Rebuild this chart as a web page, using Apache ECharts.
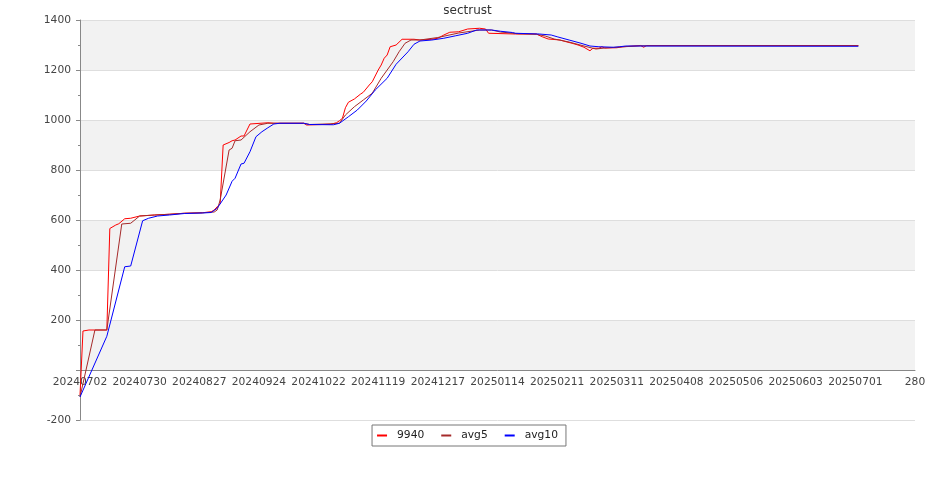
<!DOCTYPE html>
<html>
<head>
<meta charset="utf-8">
<script src="https://cdn.jsdelivr.net/npm/echarts@6/dist/echarts.min.js"></script>
<style>html,body{margin:0;padding:0;background:#fff}#c{width:935px;height:500px}</style>
</head>
<body>
<div id="c"></div>
<script>
var titleText = 'sectrust';
var seriesNames = ['9940', 'avg5', 'avg10'];
var xTickLabels = ['20240702','20240730','20240827','20240924','20241022','20241119','20241217',
  '20250114','20250211','20250311','20250408','20250506','20250603','20250701','280'];

// [trading-day index, value]
var s9940 = [[0,-100],[1,156],[3,160],[9,160],[10,566],[12,580],[13,585],[15,605],[17,607],[20,616],
  [25,620],[30,623],[35,627],[41,629],[44,633],[45,640],[46,653],[47,665],[48,900],[50,910],[51,917],
  [52,920],[54,936],[55,936],[57,984],[63,989],[65,987],[75,987],[76,980],[84,983],[86,989],[87,997],
  [88,1007],[89,1049],[90,1071],[92,1084],[94,1103],[95,1111],[97,1140],[98,1153],[100,1200],[101,1220],
  [102,1247],[103,1260],[104,1293],[106,1300],[108,1323],[112,1323],[114,1320],[118,1323],[120,1327],
  [122,1340],[124,1351],[127,1353],[130,1364],[134,1367],[136,1364],[137,1347],[146,1344],[153,1344],
  [155,1333],[157,1324],[161,1320],[163,1313],[165,1307],[167,1300],[169,1291],[171,1277],[172,1287],
  [174,1287],[175,1293],[176,1288],[180,1289],[182,1293],[188,1298],[189,1291],[190,1298],[261,1298]];
var sAvg5 = [[0,-108],[5,160],[9,160],[14,584],[17,587],[20,616],[25,620],[30,623],[35,627],[41,629],
  [45,632],[46,640],[47,680],[50,880],[51,887],[52,917],[54,920],[57,953],[60,980],[63,987],[75,987],
  [77,982],[85,985],[87,987],[89,1020],[92,1053],[95,1080],[98,1107],[101,1167],[105,1233],[107,1273],
  [109,1307],[111,1320],[114,1320],[120,1330],[127,1348],[134,1360],[138,1360],[141,1352],[147,1345],
  [153,1343],[156,1336],[159,1324],[164,1312],[169,1296],[173,1284],[176,1288],[181,1292],[188,1297],[261,1297]];
var sAvg10 = [[0,-108],[9,135],[15,413],[17,416],[21,597],[23,607],[26,616],[30,620],[35,626],[41,628],
  [44,630],[46,647],[49,700],[51,755],[52,767],[54,824],[55,827],[57,873],[59,933],[61,953],[63,969],
  [65,984],[67,987],[75,987],[77,982],[85,981],[87,987],[90,1013],[93,1040],[96,1076],[99,1120],[103,1167],
  [106,1223],[110,1273],[112,1303],[114,1316],[118,1320],[122,1327],[126,1337],[130,1347],[133,1360],
  [138,1360],[141,1355],[145,1350],[146,1347],[154,1344],[158,1340],[160,1333],[164,1320],[168,1307],
  [171,1296],[174,1293],[179,1291],[181,1293],[183,1296],[261,1295]];
var seriesColors = ['#ff0000', '#a52a2a', '#0000ff'];

var font = 'DejaVu Sans';
var chart = echarts.init(document.getElementById('c'), null, {renderer: 'canvas'});
function mk(name, data, color) {
  return {name: name, type: 'line', data: data, showSymbol: false, symbol: 'none',
    lineStyle: {width: 1, color: color}, itemStyle: {color: color}, z: 3};
}
chart.setOption({
  animation: false,
  backgroundColor: '#ffffff',
  title: {text: titleText, left: 'center', top: 0,
    textStyle: {fontFamily: font, fontSize: 12, fontWeight: 'normal', color: '#333'}},
  legend: {bottom: 54, left: 'center', icon: 'rect', itemWidth: 10, itemHeight: 2, itemGap: 17,
    borderColor: '#777', borderWidth: 1, borderRadius: 0, padding: [5, 8, 5, 5],
    textStyle: {fontFamily: font, fontSize: 10.7, color: '#222', padding: [0, 0, 0, 5]},
    data: seriesNames},
  grid: {left: 80, right: 20, top: 20, bottom: 80, containLabel: false},
  xAxis: {type: 'value', min: 0, max: 280, interval: 20, offset: -50,
    axisLine: {onZero: false, lineStyle: {color: '#888'}},
    axisTick: {show: false},
    splitLine: {show: false},
    axisLabel: {fontFamily: font, fontSize: 10.7, color: '#444', margin: 7,
      formatter: function (v) { return xTickLabels[Math.round(v / 20)]; }}},
  yAxis: {type: 'value', min: -200, max: 1400, interval: 200,
    axisLine: {show: true, lineStyle: {color: '#888'}},
    axisTick: {show: true, length: 4, lineStyle: {color: '#888'}},
    minorTick: {show: true, splitNumber: 2, length: 2, lineStyle: {color: '#888'}},
    splitLine: {show: true, lineStyle: {color: '#dedede'}},
    splitArea: {show: true, areaStyle: {color: ['#ffffff', '#f2f2f2']}},
    axisLabel: {fontFamily: font, fontSize: 10.7, color: '#444', margin: 9,
      formatter: function (v) { return v === 0 ? '' : String(v); }}},
  series: [mk(seriesNames[0], s9940, seriesColors[0]), mk(seriesNames[1], sAvg5, seriesColors[1]),
    mk(seriesNames[2], sAvg10, seriesColors[2])]
});
</script>
</body>
</html>
